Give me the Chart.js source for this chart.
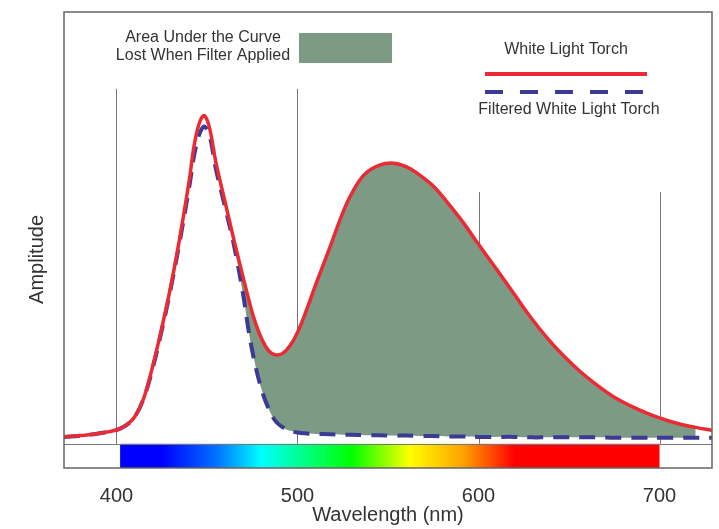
<!DOCTYPE html>
<html>
<head>
<meta charset="utf-8">
<script src="https://cdn.jsdelivr.net/npm/chart.js@4.4.1/dist/chart.umd.min.js"></script>
<style>
html, body { margin: 0; padding: 0; background: #fff; }
</style>
</head>
<body>
<canvas id="spectrumChart" width="719" height="529"></canvas>
<script>
// wavelength samples (nm) and amplitudes
const wavelengths = [371, 380, 390, 400, 405, 410, 415, 420, 425, 430, 435, 440, 444, 448, 451, 455, 460, 465, 470, 473,
    476, 480, 484, 488, 492, 496, 500, 505, 510, 518, 525, 530, 537, 545, 553, 560, 567, 575, 583, 592,
    600, 610, 620, 629, 638, 647, 656, 666, 675, 684, 692, 700, 710, 720, 729];
const whiteTorch = [0.016, 0.019, 0.024, 0.032, 0.042, 0.062, 0.105, 0.18, 0.268, 0.365, 0.478, 0.605, 0.715, 0.760, 0.738, 0.65, 0.56, 0.47, 0.385, 0.335,
    0.29, 0.245, 0.216, 0.206, 0.21, 0.228, 0.258, 0.31, 0.368, 0.456, 0.535, 0.58, 0.624, 0.645, 0.650, 0.642, 0.624, 0.597, 0.558, 0.51,
    0.462, 0.404, 0.345, 0.292, 0.245, 0.204, 0.168, 0.134, 0.108, 0.088, 0.073, 0.060, 0.047, 0.038, 0.031];
const filteredTorch = [0.016, 0.019, 0.024, 0.032, 0.042, 0.062, 0.105, 0.175, 0.263, 0.36, 0.47, 0.59, 0.69, 0.734, 0.72, 0.635, 0.548, 0.458, 0.345, 0.262,
    0.195, 0.128, 0.082, 0.052, 0.038, 0.03, 0.026, 0.024, 0.023, 0.022, 0.021, 0.021, 0.02, 0.02, 0.019, 0.019, 0.018, 0.018, 0.017, 0.017,
    0.016, 0.016, 0.016, 0.015, 0.015, 0.015, 0.015, 0.015, 0.014, 0.014, 0.014, 0.014, 0.014, 0.014, 0.014];
const xTicks = [400, 500, 600, 700];
const lostFrom = 465;
const lostTo = 720;

const spectrumStops = [
    [402, '#0000ff'], [425, '#0000ff'], [455, '#0070ff'], [480, '#00ffff'], [505, '#00ff80'],
    [530, '#00ff00'], [562, '#ffff00'], [592, '#ffa000'], [620, '#ff0000'], [700, '#ff0000']
];
const gridTops = [0.822, 0.822, 0.583, 0.583];

const FONT = "'Liberation Sans', Arial, sans-serif";
const RED = '#eb2a34';
const BLUE = '#3b3b94';
const GREEN = '#7c9a84';
const TEXT = '#333333';

const toPoints = values => wavelengths.map((w, i) => ({ x: w, y: values[i] }));
const lostArea = wavelengths.map((w, i) => ({ x: w, y: (w >= lostFrom && w <= lostTo) ? whiteTorch[i] : null }));

const backdropPlugin = {
    id: 'backdrop',
    beforeDatasetsDraw(chart) {
        const { ctx, chartArea: a, scales: { x, y } } = chart;
        const y0 = y.getPixelForValue(0);
        const first = spectrumStops[0][0];
        const last = spectrumStops[spectrumStops.length - 1][0];
        const x1 = x.getPixelForValue(first);
        const x2 = x.getPixelForValue(last);
        ctx.save();
        const grad = ctx.createLinearGradient(x1, 0, x2, 0);
        spectrumStops.forEach(([nm, c]) => grad.addColorStop((nm - first) / (last - first), c));
        ctx.fillStyle = grad;
        ctx.fillRect(x1, y0, x2 - x1, a.bottom - y0);

        ctx.strokeStyle = '#777';
        ctx.lineWidth = 1;
        ctx.beginPath();
        ctx.moveTo(a.left, Math.round(y0) + 0.5);
        ctx.lineTo(a.right, Math.round(y0) + 0.5);
        xTicks.forEach((v, i) => {
            const px = Math.round(x.getPixelForValue(v)) + 0.5;
            ctx.moveTo(px, y.getPixelForValue(gridTops[i]));
            ctx.lineTo(px, y0);
        });
        ctx.stroke();
        ctx.restore();
    },
    afterDatasetsDraw(chart) {
        const { ctx, chartArea: a } = chart;
        ctx.save();
        ctx.strokeStyle = '#666';
        ctx.lineWidth = 1.5;
        ctx.strokeRect(a.left, a.top, a.right - a.left, a.bottom - a.top);
        ctx.restore();
    }
};

const legendPlugin = {
    id: 'customLegend',
    afterDraw(chart) {
        const { ctx } = chart;
        const ds = chart.data.datasets;
        ctx.save();
        ctx.font = '16px ' + FONT;
        ctx.fillStyle = TEXT;
        ctx.textAlign = 'center';
        ctx.textBaseline = 'middle';
        ctx.fillText('Area Under the Curve', 203, 38);
        ctx.fillText('Lost When Filter Applied', 203, 56);
        ctx.fillStyle = ds[2].backgroundColor;
        ctx.fillRect(299, 33, 93, 30);

        ctx.fillStyle = TEXT;
        ctx.fillText(ds[0].label, 566, 50);
        ctx.fillText(ds[1].label, 569, 110);

        ctx.lineWidth = 4;
        ctx.strokeStyle = ds[0].borderColor;
        ctx.beginPath();
        ctx.moveTo(485, 74);
        ctx.lineTo(647, 74);
        ctx.stroke();

        ctx.strokeStyle = ds[1].borderColor;
        ctx.setLineDash([18, 17]);
        ctx.beginPath();
        ctx.moveTo(485, 92);
        ctx.lineTo(647, 92);
        ctx.stroke();
        ctx.restore();
    }
};

const ctx = document.getElementById('spectrumChart').getContext('2d');
const spectrumChart = new Chart(ctx, {
    type: 'line',
    data: {
        datasets: [
            {
                label: 'White Light Torch',
                data: toPoints(whiteTorch),
                borderColor: RED,
                borderWidth: 3.5,
                pointRadius: 0,
                fill: false,
                tension: 0.4,
                order: 0
            },
            {
                label: 'Filtered White Light Torch',
                data: toPoints(filteredTorch),
                borderColor: BLUE,
                borderWidth: 4,
                borderDash: [16, 10],
                pointRadius: 0,
                fill: false,
                tension: 0.4,
                order: 1
            },
            {
                label: 'Area Under the Curve Lost When Filter Applied',
                data: lostArea,
                borderColor: 'rgba(255,255,255,0.9)',
                borderWidth: 1,
                backgroundColor: GREEN,
                pointRadius: 0,
                fill: 1,
                tension: 0.4,
                order: 2
            }
        ]
    },
    options: {
        responsive: false,
        animation: false,
        layout: { padding: { top: 12, right: 7, left: 0, bottom: 0 } },
        plugins: {
            legend: { display: false },
            tooltip: { enabled: false }
        },
        scales: {
            x: {
                type: 'linear',
                min: 371,
                max: 729,
                afterBuildTicks: scale => { scale.ticks = xTicks.map(v => ({ value: v })); },
                afterFit: scale => { scale.height = 61; },
                grid: { display: false, drawTicks: false },
                border: { display: false },
                ticks: { padding: 16, maxRotation: 0, color: TEXT, font: { size: 20, family: FONT } },
                title: {
                    display: true,
                    text: 'Wavelength (nm)',
                    color: TEXT,
                    font: { size: 20, family: FONT },
                    padding: { top: 0, bottom: 2 }
                }
            },
            y: {
                min: -0.056,
                max: 1,
                afterFit: scale => { scale.width = 64; },
                grid: { display: false, drawTicks: false },
                border: { display: false },
                ticks: { display: false },
                title: {
                    display: true,
                    text: 'Amplitude       ',
                    color: TEXT,
                    font: { size: 20, family: FONT },
                    padding: { top: 25, bottom: 0 }
                }
            }
        }
    },
    plugins: [backdropPlugin, legendPlugin]
});
</script>
</body>
</html>
